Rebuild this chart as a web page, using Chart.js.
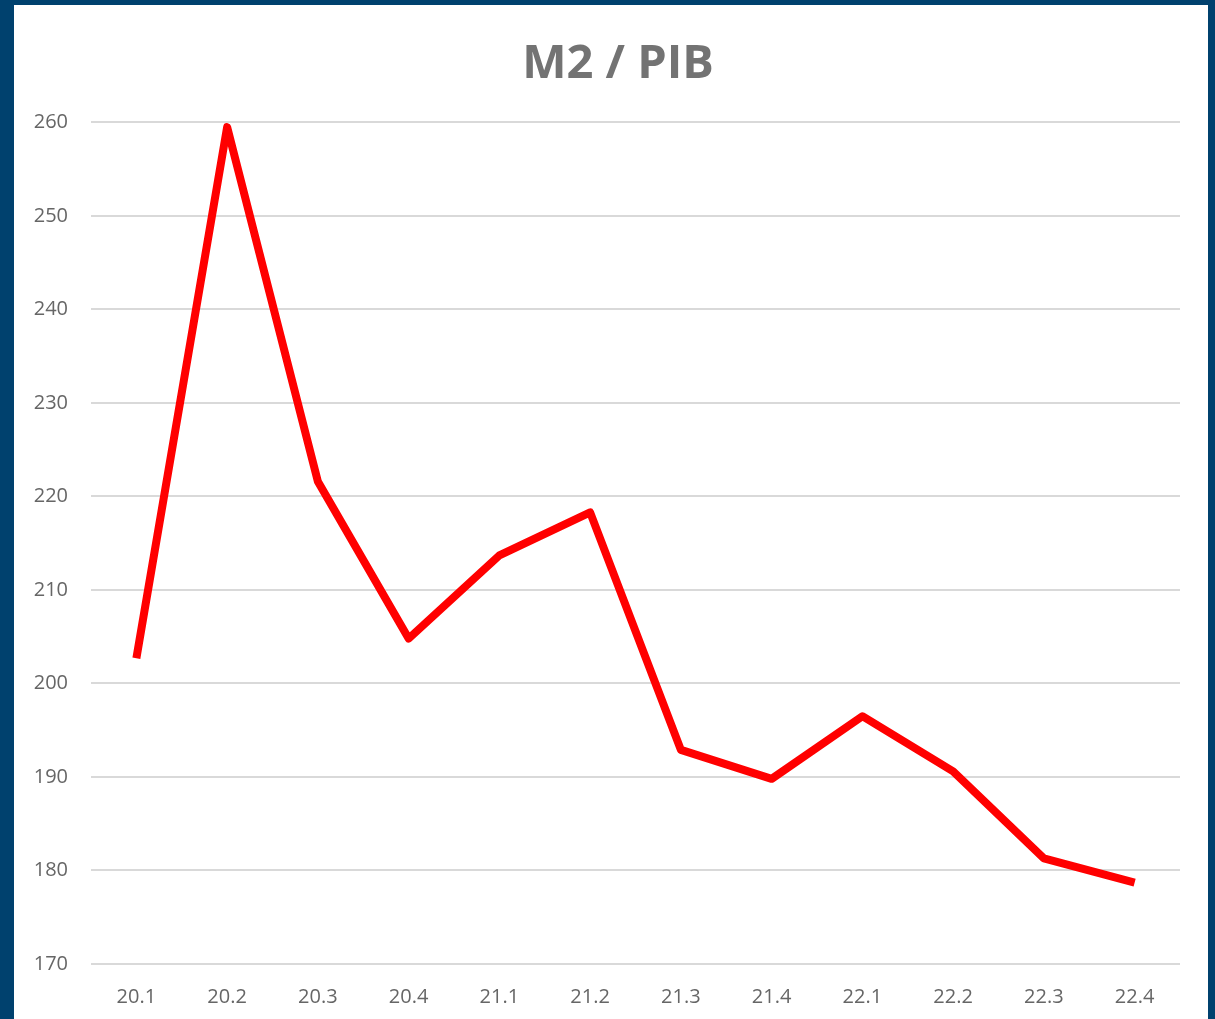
<!DOCTYPE html>
<html>
<head>
<meta charset="utf-8">
<script src="https://cdn.jsdelivr.net/npm/chart.js@4/dist/chart.umd.min.js"></script>
<style>
  html, body { margin: 0; padding: 0; }
  body { width: 1215px; height: 1019px; background: #00416e; position: relative; overflow: hidden; }
  #box { position: absolute; left: 14px; top: 5px; width: 1194px; height: 1014px; background: #fff; }
</style>
</head>
<body>
<div id="box"><canvas id="m2Chart"></canvas></div>
<script>
const quarters = ['20.1', '20.2', '20.3', '20.4', '21.1', '21.2', '21.3', '21.4', '22.1', '22.2', '22.3', '22.4'];
const m2Pib = [202.7, 259.5, 221.6, 204.8, 213.7, 218.3, 192.9, 189.8, 196.5, 190.6, 181.3, 178.7];
const yTicks = [170, 180, 190, 200, 210, 220, 230, 240, 250, 260];

const font = "'Open Sans', 'DejaVu Sans', sans-serif";

const ctx = document.getElementById('m2Chart').getContext('2d');
const chart = new Chart(ctx, {
  type: 'line',
  data: {
    labels: quarters,
    datasets: [{
      label: 'M2 / PIB',
      data: m2Pib,
      borderColor: '#ff0000',
      borderWidth: 8,
      borderJoinStyle: 'round',
      pointRadius: 0,
      tension: 0
    }]
  },
  options: {
    responsive: true,
    maintainAspectRatio: false,
    animation: false,
    layout: { padding: { left: 14, right: 0, top: 0, bottom: 0 } },
    plugins: {
      legend: { display: false },
      tooltip: { enabled: false },
      title: {
        display: true,
        text: 'M2 / PIB',
        color: '#737373',
        font: { family: font, size: 47, weight: 'bold' },
        padding: { top: 31, bottom: 30 }
      }
    },
    scales: {
      x: {
        offset: true,
        grid: { display: false },
        border: { display: false },
        ticks: { color: '#666', font: { family: font, size: 20 }, padding: 13, maxRotation: 0 },
        afterFit: s => { s.height = 55; }
      },
      y: {
        min: 170,
        max: 260,
        afterBuildTicks: s => { s.ticks = yTicks.map(v => ({ value: v })); },
        grid: { color: '#d9d9d9', lineWidth: 2, drawTicks: false },
        border: { display: false },
        ticks: { color: '#666', font: { family: font, size: 20 }, padding: 23 },
        afterFit: s => { s.width = 63; }
      },
      // empty axis on the right, keeps space after the plot
      yRight: {
        position: 'right',
        display: true,
        grid: { display: false },
        border: { display: false },
        ticks: { display: false },
        afterFit: s => { s.width = 28; }
      }
    }
  }
});
</script>
</body>
</html>
